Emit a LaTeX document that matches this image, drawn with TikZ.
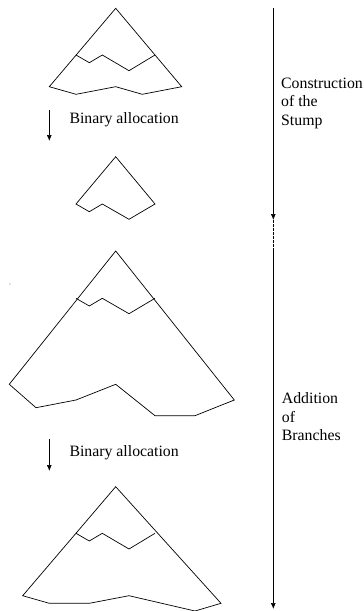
\documentclass[tikz,border=0pt]{standalone}
\usepackage{fontspec}
\setmainfont{Liberation Serif}
\usetikzlibrary{arrows.meta}
\begin{document}
\begin{tikzpicture}[x=1pt,y=-1pt,
  outline/.style={line width=0.7pt,line join=miter},
  flow/.style={line width=0.7pt,-{Latex[length=6pt,width=5pt]}},
  label/.style={inner sep=0pt,align=left,font=\fontsize{15.8}{18.3}\selectfont}]
\useasboundingbox (0,0) rectangle (364,611);
% shape 1
\draw[outline] (49.3,86.7) -- (115.7,8.3) -- (181.7,86.7) -- (142.3,94.3) -- (115.7,86.7) -- (76,94.3) -- cycle;
\draw[outline] (76,55) -- (89.3,62.7) -- (102.3,55) -- (129,70.7) -- (155,55);
% arrow 1
\coordinate (a1s) at (49.3,110);
\coordinate (a1e) at (49.3,141);
\draw[flow] (a1s) -- (a1e);
\node[label,anchor=west] (t1) at (69.3,120) {Binary allocation};
% shape 2
\draw[outline] (115.7,156.7) -- (155,204) -- (129,219.3) -- (102.3,204) -- (89.3,211.7) -- (76,204) -- cycle;
% shape 3
\draw[outline] (115.7,251) -- (234.3,400) -- (195,415.7) -- (155,415.7) -- (115.7,384.3) -- (76,400) -- (36,407.7) -- (9.3,384.3) -- cycle;
\draw[outline] (76,298.3) -- (89.3,306) -- (102.3,298.3) -- (129,313.7) -- (155,298.3);
\fill[gray] (10,284) circle (0.6);
% arrow 2
\coordinate (a2s) at (49.3,439.3);
\coordinate (a2e) at (49.3,471);
\draw[flow] (a2s) -- (a2e);
\node[label,anchor=west] (t2) at (69.3,452.3) {Binary allocation};
% shape 4
\draw[outline] (115.7,486.7) -- (221,603.3) -- (195,611) -- (129,595.7) -- (89.3,603.3) -- (49.3,603.3) -- (22.7,595.7) -- cycle;
\draw[outline] (76,533.3) -- (89.3,541) -- (102.3,533.3) -- (129,549) -- (155,533.3);
% right arrows
\coordinate (r1s) at (273.3,8);
\coordinate (r1e) at (273.3,220);
\coordinate (r2s) at (273.3,250);
\coordinate (r2e) at (273.3,609);
\draw[flow] (r1s) -- (r1e);
\draw[line width=0.5pt,dash pattern=on 2.5pt off 1.5pt] (r1e) -- (r2s);
\draw[flow] (r2s) -- (r2e);
\node[label,anchor=west] (t3) at (281,103.3) {Construction\\of the\\Stump};
\node[label,anchor=west] (t4) at (281.7,416.7) {Addition\\of\\Branches};
\end{tikzpicture}
\end{document}
